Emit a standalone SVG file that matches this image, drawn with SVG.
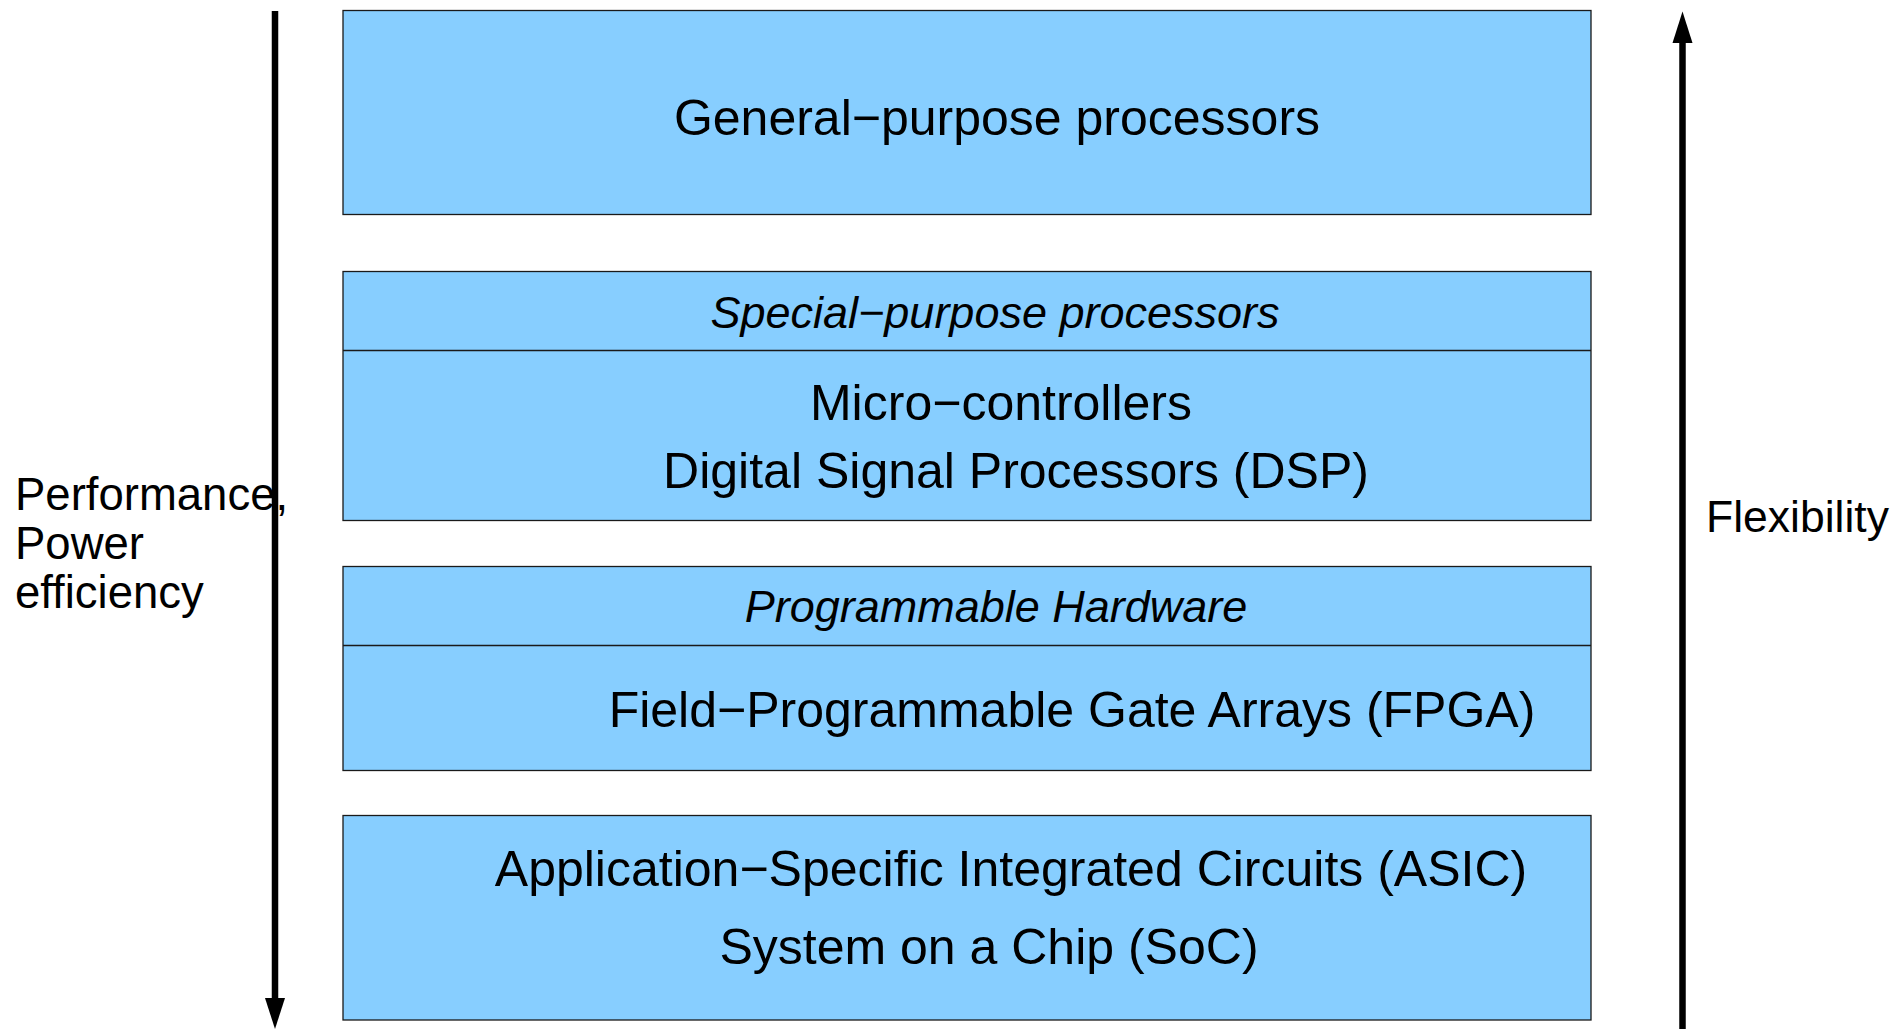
<svg xmlns="http://www.w3.org/2000/svg" width="1903" height="1029" viewBox="0 0 1903 1029">
<style>
.box{fill:#87ceff;stroke:#1a1a1a;stroke-width:1.3}
.div{stroke:#1a1a1a;stroke-width:1.3}
.t{font-family:"Liberation Sans",Arial,sans-serif;font-size:50px;fill:#000;text-anchor:middle}
.ti{font-family:"Liberation Sans",Arial,sans-serif;font-size:45px;font-style:italic;fill:#000;text-anchor:middle}
.lbl{font-family:"Liberation Sans",Arial,sans-serif;font-size:44.5px;fill:#000}
.lbl2{font-family:"Liberation Sans",Arial,sans-serif;font-size:45.5px;fill:#000}
.arr{stroke:#000;stroke-width:6.5;fill:none}
.head{fill:#000}
</style>
<rect width="1903" height="1029" fill="#fff"/>
<g id="general">
<rect class="box" x="343" y="10.5" width="1248" height="204"/>
<text class="t" x="997" y="135">General−purpose processors</text>
</g>
<g id="special">
<rect class="box" x="343" y="271.5" width="1248" height="249"/>
<line class="div" x1="343" y1="350.5" x2="1591" y2="350.5"/>
<text class="ti" x="995" y="328">Special−purpose processors</text>
<text class="t" x="1001" y="419.5">Micro−controllers</text>
<text class="t" x="1016" y="487.5">Digital Signal Processors (DSP)</text>
</g>
<g id="programmable">
<rect class="box" x="343" y="566.5" width="1248" height="204"/>
<line class="div" x1="343" y1="645.5" x2="1591" y2="645.5"/>
<text class="ti" x="996" y="622">Programmable Hardware</text>
<text class="t" x="1072" y="726.5">Field−Programmable Gate Arrays (FPGA)</text>
</g>
<g id="asic">
<rect class="box" x="343" y="815.5" width="1248" height="204.5"/>
<text class="t" x="1011" y="886">Application−Specific Integrated Circuits (ASIC)</text>
<text class="t" x="989" y="964">System on a Chip (SoC)</text>
</g>
<g id="connectors">
<line class="arr" x1="275" y1="11" x2="275" y2="999"/>
<polygon class="head" points="265,998 285,998 275,1029"/>
<line class="arr" x1="1682.5" y1="1029" x2="1682.5" y2="42"/>
<polygon class="head" points="1672.5,43 1692.5,43 1682.5,11.5"/>
</g>
<g id="labels">
<text class="lbl2" x="15" y="510">Performance,</text>
<text class="lbl2" x="15" y="559">Power</text>
<text class="lbl2" x="15" y="608">efficiency</text>
<text class="lbl" x="1706" y="532">Flexibility</text>
</g>
</svg>
